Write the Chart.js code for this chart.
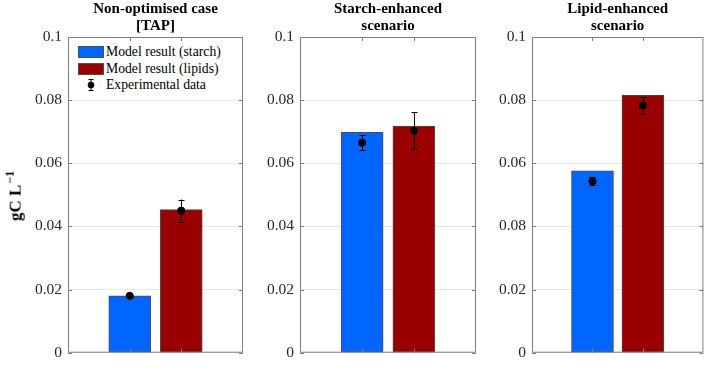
<!DOCTYPE html>
<html>
<head>
<meta charset="utf-8">
<script src="https://cdn.jsdelivr.net/npm/chart.js@4/dist/chart.umd.min.js"></script>
<style>
  html, body { margin: 0; padding: 0; background: #fff; }
  body { width: 708px; height: 368px; position: relative; overflow: hidden; font-family: "Liberation Serif", serif; }
  .panel { position: absolute; top: 0; height: 368px; }
  .title { position: absolute; top: 0; font-family: "Liberation Serif", serif; font-weight: bold; font-size: 15px; line-height: 17px; text-align: center; color: #000; white-space: nowrap; transform: translateX(-50%); }
  .ylabel { position: absolute; left: 14px; top: 196px; transform: translate(-50%, -50%) rotate(-90deg); font-family: "Liberation Serif", serif; font-weight: bold; font-size: 17px; white-space: nowrap; color: #000; }
  .ylabel sup { font-size: 12px; margin-left: 1px; }
  .legend { position: absolute; left: 78px; top: 44px; font-family: "Liberation Serif", serif; font-size: 13.7px; color: #000; background: #fff; }
  .legend .row { height: 16.5px; display: flex; align-items: center; }
  .legend .sw { width: 24px; height: 10px; border: 1px solid #4d4d4d; margin-right: 2px; }
  .legend .mk { width: 26px; height: 16px; margin-right: 2px; }
</style>
</head>
<body>
<div class="panel" style="left:0;width:250px"><canvas id="c0"></canvas></div>
<div class="panel" style="left:250px;width:233px"><canvas id="c1"></canvas></div>
<div class="panel" style="left:483px;width:225px"><canvas id="c2"></canvas></div>
<div id="titles"></div>
<div class="ylabel">gC L<sup>−1</sup></div>
<div class="legend">
  <div class="row"><div class="sw" style="background:#0066ff"></div>Model result (starch)</div>
  <div class="row"><div class="sw" style="background:#990000"></div>Model result (lipids)</div>
  <div class="row"><svg class="mk" width="26" height="16"><line x1="13" y1="2" x2="13" y2="14" stroke="#000" stroke-width="1"/><line x1="10.5" y1="2.5" x2="15.5" y2="2.5" stroke="#000"/><line x1="10.5" y1="13.5" x2="15.5" y2="13.5" stroke="#000"/><circle cx="13" cy="8" r="3.3" fill="#000"/></svg>Experimental data</div>
</div>
<script>
// ---- Data ----
const scenarioTitles = [
  ['Non-optimised case', '[TAP]'],
  ['Starch-enhanced', 'scenario'],
  ['Lipid-enhanced', 'scenario']
];
const seriesNames = ['Model result (starch)', 'Model result (lipids)', 'Experimental data'];
const starchModel = [0.0180, 0.0698, 0.0576];
const lipidModel  = [0.0453, 0.0718, 0.0816];
const starchExp   = [0.0180, 0.0665, 0.0543];
const starchErr   = [0.0003, 0.0023, 0.0013];
const lipidExp    = [0.0450, 0.0703, 0.0783];
const lipidErr    = [0.0035, 0.0058, 0.0027];
const yTickLabels = [
  ['0', '0.02', '0.04', '0.06', '0.08', '0.1'],
  ['0', '0.02', '0.04', '0.06', '0.08', '0.1'],
  ['0', '0.02', '0.08', '0.06', '0.08', '0.1']
];

// ---- Layout / style ----
const BLUE = '#0066ff', RED = '#990000', EDGE = '#4d4d4d', AXIS = '#7f7f7f';
const SERIF = '"Liberation Serif", "Times New Roman", serif';
const panelLayout = [
  { yWidth: 68, padRight: 7 },
  { yWidth: 50, padRight: 7 },
  { yWidth: 49, padRight: 1 }
];

const framePlugin = {
  id: 'frame',
  afterDraw(chart) {
    const { ctx, chartArea: a, scales } = chart;
    ctx.save();
    ctx.strokeStyle = AXIS;
    ctx.lineWidth = 1;
    ctx.strokeRect(a.left + 0.5, a.top + 0.5, a.right - a.left - 1, a.bottom - a.top - 1);
    ctx.beginPath();
    scales.y.ticks.forEach(t => {
      const y = Math.round(scales.y.getPixelForValue(t.value)) + 0.5;
      ctx.moveTo(a.left, y); ctx.lineTo(a.left + 4, y);
      ctx.moveTo(a.right, y); ctx.lineTo(a.right - 4, y);
    });
    [1, 2].forEach(v => {
      const x = Math.round(scales.x.getPixelForValue(v)) + 0.5;
      ctx.moveTo(x, a.top); ctx.lineTo(x, a.top + 4);
      ctx.moveTo(x, a.bottom); ctx.lineTo(x, a.bottom - 4);
    });
    ctx.stroke();
    ctx.restore();
  }
};

const errorBarPlugin = {
  id: 'errbars',
  afterDatasetsDraw(chart) {
    const { ctx, scales } = chart;
    ctx.save();
    ctx.strokeStyle = '#000';
    ctx.lineWidth = 1;
    chart.data.datasets.forEach(ds => {
      if (!ds.errors) return;
      ds.data.forEach((p, k) => {
        const e = ds.errors[k];
        const x = Math.round(scales.x.getPixelForValue(p.x)) + 0.5;
        const y1 = scales.y.getPixelForValue(p.y + e);
        const y2 = scales.y.getPixelForValue(p.y - e);
        ctx.beginPath();
        ctx.moveTo(x, y1); ctx.lineTo(x, y2);
        ctx.moveTo(x - 3, Math.round(y1) + 0.5); ctx.lineTo(x + 3, Math.round(y1) + 0.5);
        ctx.moveTo(x - 3, Math.round(y2) + 0.5); ctx.lineTo(x + 3, Math.round(y2) + 0.5);
        ctx.stroke();
      });
    });
    ctx.restore();
  }
};

const titlesDiv = document.getElementById('titles');

for (let i = 0; i < 3; i++) {
  const L = panelLayout[i];
  const canvas = document.getElementById('c' + i);
  const chart = new Chart(canvas, {
    type: 'bar',
    data: {
      datasets: [
        { label: seriesNames[0], data: [{ x: 1, y: starchModel[i] }], backgroundColor: BLUE, borderColor: EDGE, borderWidth: 1, borderSkipped: false, barThickness: 42, grouped: false, order: 2 },
        { label: seriesNames[1], data: [{ x: 2, y: lipidModel[i] }], backgroundColor: RED, borderColor: EDGE, borderWidth: 1, borderSkipped: false, barThickness: 42, grouped: false, order: 2 },
        { type: 'scatter', label: seriesNames[2], data: [{ x: 1, y: starchExp[i] }, { x: 2, y: lipidExp[i] }], errors: [starchErr[i], lipidErr[i]], backgroundColor: '#000', borderColor: '#000', pointRadius: 3.6, pointHoverRadius: 3.6, order: 1 }
      ]
    },
    options: {
      responsive: true,
      maintainAspectRatio: false,
      animation: false,
      events: [],
      layout: { padding: { top: 37, bottom: 7, left: 0, right: L.padRight } },
      plugins: { legend: { display: false }, tooltip: { enabled: false }, title: { display: false } },
      scales: {
        x: { type: 'linear', min: -0.2, max: 3.2, offset: false, display: false },
        y: {
          min: 0, max: 0.1,
          ticks: {
            stepSize: 0.02,
            padding: 6,
            color: '#262626',
            font: { family: SERIF, size: 15.5 },
            callback: (v, idx) => yTickLabels[i][idx]
          },
          grid: { color: '#e6e6e6', drawTicks: false },
          border: { display: false },
          afterFit: s => { s.width = L.yWidth; }
        }
      }
    },
    plugins: [framePlugin, errorBarPlugin]
  });
  const a = chart.chartArea;
  const left = canvas.parentElement.offsetLeft + (a.left + a.right) / 2;
  const t = document.createElement('div');
  t.className = 'title';
  t.style.left = left + 'px';
  t.innerHTML = scenarioTitles[i].join('<br>');
  titlesDiv.appendChild(t);
}
</script>
</body>
</html>
